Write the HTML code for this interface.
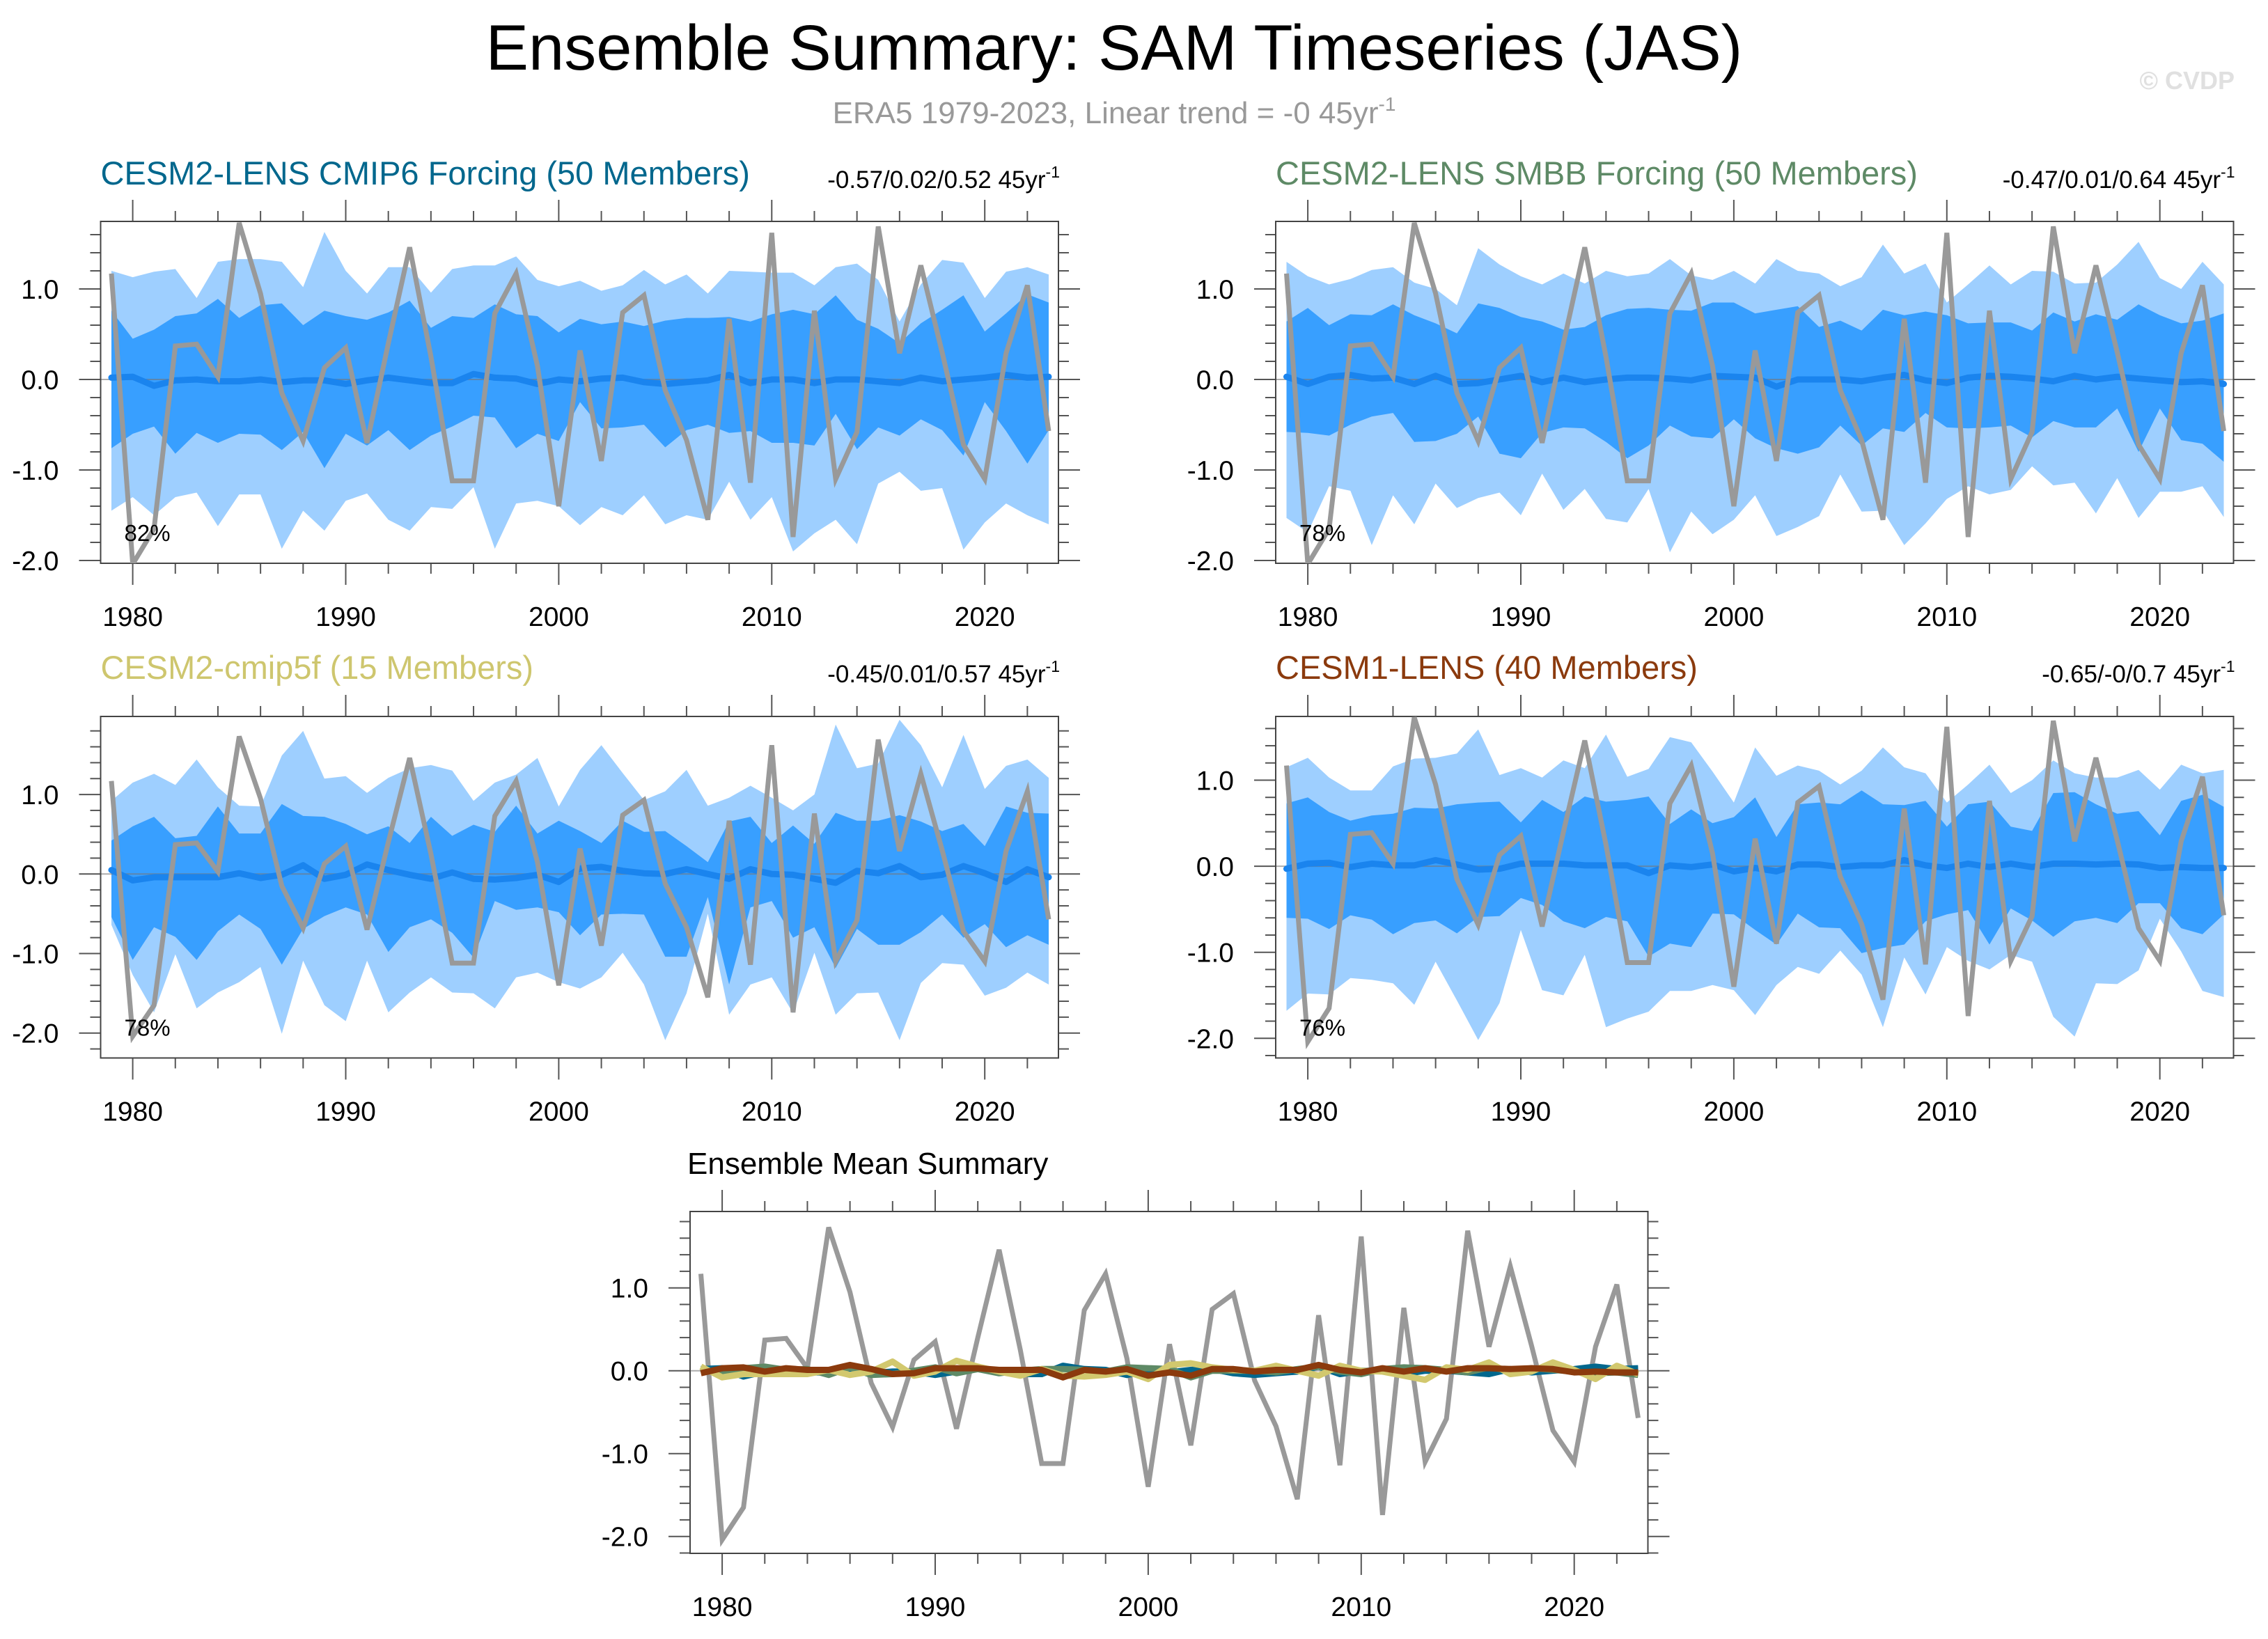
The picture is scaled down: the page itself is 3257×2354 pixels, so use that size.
<!DOCTYPE html>
<html><head><meta charset="utf-8"><title>Ensemble Summary: SAM Timeseries (JAS)</title>
<style>html,body{margin:0;padding:0;background:#fff}svg{display:block;font-family:"Liberation Sans",Arial,sans-serif}</style>
</head><body>
<svg id="chart" xmlns="http://www.w3.org/2000/svg" width="3257" height="2354" viewBox="0 0 3257 2354">
<rect x="0" y="0" width="3257" height="2354" fill="#fff"/>
<text x="1600" y="100" font-size="92" text-anchor="middle" fill="#000">Ensemble Summary: SAM Timeseries (JAS)</text>
<text x="1600" y="177" font-size="44" text-anchor="middle" fill="#999">ERA5 1979-2023, Linear trend = -0 45yr<tspan dy="-18" font-size="28">-1</tspan></text>
<text x="3209" y="128" font-size="36" font-weight="bold" text-anchor="end" fill="#e0e0e0">© CVDP</text>
</svg>
<script>
const years = [1979,1980,1981,1982,1983,1984,1985,1986,1987,1988,1989,1990,1991,1992,1993,1994,1995,1996,1997,1998,1999,2000,2001,2002,2003,2004,2005,2006,2007,2008,2009,2010,2011,2012,2013,2014,2015,2016,2017,2018,2019,2020,2021,2022,2023];
const era5 = [1.17,-2.04,-1.65,0.37,0.39,0.03,1.73,0.95,-0.15,-0.68,0.13,0.35,-0.70,0.40,1.46,0.25,-1.12,-1.12,0.73,1.17,0.15,-1.40,0.32,-0.90,0.74,0.93,-0.12,-0.67,-1.55,0.67,-1.14,1.62,-1.74,0.76,-1.10,-0.58,1.69,0.29,1.26,0.30,-0.72,-1.10,0.29,1.04,-0.57];
const xTickYears = [1980,1990,2000,2010,2020];
const yTickValues = [-2,-1,0,1];
const yTickLabels = ["-2.0","-1.0","0.0","1.0"];

// Panel 1: CESM2-LENS CMIP6 Forcing
const p1LightHi = [1.20,1.13,1.19,1.22,0.90,1.30,1.33,1.33,1.30,1.02,1.63,1.20,0.95,1.24,1.24,0.96,1.22,1.26,1.26,1.36,1.10,1.03,1.09,0.98,1.04,1.21,1.05,1.16,0.95,1.20,1.19,1.18,1.18,1.04,1.24,1.28,1.10,0.64,1.05,1.32,1.29,0.90,1.19,1.24,1.16];
const p1DarkHi = [0.76,0.45,0.55,0.70,0.73,0.89,0.68,0.82,0.84,0.60,0.76,0.70,0.66,0.74,0.87,0.57,0.70,0.68,0.83,0.72,0.70,0.52,0.67,0.61,0.64,0.59,0.65,0.68,0.68,0.69,0.64,0.72,0.77,0.72,0.93,0.66,0.56,0.40,0.62,0.77,0.93,0.53,0.73,0.94,0.85];
const p1DarkLo = [-0.76,-0.60,-0.52,-0.82,-0.59,-0.70,-0.60,-0.61,-0.78,-0.58,-0.98,-0.60,-0.73,-0.56,-0.78,-0.62,-0.52,-0.40,-0.42,-0.76,-0.60,-0.68,-0.25,-0.54,-0.53,-0.50,-0.75,-0.56,-0.50,-0.59,-0.57,-0.70,-0.70,-0.73,-0.38,-0.77,-0.53,-0.62,-0.44,-0.56,-0.84,-0.25,-0.57,-0.93,-0.56];
const p1LightLo = [-1.45,-1.30,-1.50,-1.30,-1.25,-1.62,-1.27,-1.27,-1.87,-1.45,-1.67,-1.34,-1.26,-1.55,-1.67,-1.41,-1.43,-1.19,-1.87,-1.37,-1.34,-1.40,-1.61,-1.41,-1.50,-1.28,-1.60,-1.50,-1.55,-1.13,-1.55,-1.30,-1.90,-1.70,-1.55,-1.82,-1.15,-1.02,-1.23,-1.20,-1.88,-1.58,-1.37,-1.50,-1.60];
const p1Mean = [0.02,0.03,-0.07,-0.01,0,-0.02,-0.02,0,-0.03,-0.01,-0.01,-0.05,-0.01,0.02,-0.01,-0.04,-0.04,0.06,0.02,0.01,-0.05,0,-0.02,0.01,0.02,-0.03,-0.05,-0.03,-0.01,0.05,-0.04,0,0,-0.04,0,0,-0.02,-0.04,0.02,-0.02,0,0.02,0.05,0.02,0.03];

// Panel 2: CESM2-LENS SMBB Forcing
const p2LightHi = [1.30,1.14,1.05,1.11,1.21,1.24,1.07,1.00,0.82,1.45,1.27,1.14,1.05,1.17,1.06,1.20,1.14,1.17,1.33,1.15,1.10,1.20,1.06,1.33,1.20,1.17,1.03,1.13,1.49,1.17,1.28,0.85,1.05,1.26,1.05,1.20,1.19,1.06,1.07,1.27,1.52,1.12,1.00,1.30,1.05];
const p2DarkHi = [0.64,0.79,0.60,0.72,0.71,0.83,0.71,0.62,0.51,0.84,0.79,0.69,0.64,0.55,0.58,0.71,0.78,0.79,0.77,0.76,0.85,0.85,0.73,0.77,0.81,0.58,0.65,0.54,0.77,0.71,0.75,0.71,0.62,0.63,0.63,0.54,0.74,0.64,0.72,0.66,0.83,0.71,0.62,0.65,0.73];
const p2DarkLo = [-0.58,-0.59,-0.62,-0.50,-0.41,-0.37,-0.69,-0.68,-0.60,-0.41,-0.82,-0.87,-0.59,-0.53,-0.54,-0.69,-0.87,-0.73,-0.51,-0.63,-0.65,-0.44,-0.65,-0.76,-0.82,-0.75,-0.51,-0.73,-0.54,-0.58,-0.37,-0.53,-0.54,-0.53,-0.51,-0.64,-0.46,-0.53,-0.53,-0.32,-0.80,-0.32,-0.67,-0.71,-0.91];
const p2LightLo = [-1.53,-1.69,-1.18,-1.23,-1.83,-1.28,-1.60,-1.15,-1.42,-1.31,-1.25,-1.50,-1.04,-1.44,-1.21,-1.54,-1.58,-1.21,-1.91,-1.46,-1.71,-1.55,-1.28,-1.73,-1.63,-1.51,-1.05,-1.46,-1.45,-1.83,-1.59,-1.32,-1.18,-1.27,-1.22,-0.96,-1.17,-1.14,-1.48,-1.09,-1.53,-1.24,-1.24,-1.18,-1.52];
const p2Mean = [0.03,-0.05,0.03,0.05,0.01,0.02,-0.05,0.04,-0.05,-0.04,0,0.04,-0.03,0.02,-0.03,0,0.02,0.02,0.01,-0.01,0.04,0.03,0.02,-0.08,0,0,0,-0.02,0.02,0.05,-0.01,-0.04,0.02,0.04,0.03,0.01,-0.02,0.04,0,0.03,0.01,-0.01,-0.03,-0.02,-0.05];

// Panel 3: CESM2-cmip5f
const p3LightHi = [0.92,1.15,1.26,1.12,1.44,1.09,0.86,0.85,1.49,1.80,1.20,1.23,1.02,1.21,1.33,1.37,1.30,0.92,1.15,1.25,1.46,0.85,1.31,1.62,1.27,0.93,1.04,1.31,0.86,0.96,1.11,0.96,0.80,1.00,1.88,1.33,1.39,1.94,1.62,1.09,1.75,1.07,1.36,1.44,1.21];
const p3DarkHi = [0.42,0.60,0.72,0.45,0.48,0.85,0.51,0.51,0.88,0.73,0.72,0.63,0.50,0.60,0.39,0.72,0.48,0.62,0.53,0.86,0.51,0.67,0.54,0.39,0.67,0.53,0.54,0.35,0.15,0.66,0.72,0.39,0.61,0.38,0.77,0.67,0.67,0.74,0.66,0.54,0.63,0.35,0.85,0.77,0.76];
const p3DarkLo = [-0.54,-1.08,-0.67,-0.79,-1.08,-0.72,-0.51,-0.69,-1.14,-0.69,-0.53,-0.42,-0.51,-0.98,-0.67,-0.57,-0.74,-1.05,-0.34,-0.45,-0.42,-0.48,-0.77,-0.51,-0.50,-0.51,-1.04,-1.04,-0.29,-1.39,-0.42,-0.34,-0.80,-0.67,-1.18,-0.69,-0.89,-0.89,-0.73,-0.51,-0.80,-0.63,-0.92,-0.77,-0.89];
const p3LightLo = [-0.64,-1.27,-1.74,-1.01,-1.69,-1.49,-1.36,-1.17,-2.01,-1.09,-1.65,-1.85,-1.09,-1.74,-1.49,-1.30,-1.49,-1.50,-1.69,-1.30,-1.24,-1.36,-1.44,-1.30,-0.99,-1.39,-2.09,-1.50,-0.50,-1.77,-1.39,-1.30,-1.75,-0.99,-1.77,-1.50,-1.49,-2.09,-1.37,-1.12,-1.14,-1.53,-1.43,-1.24,-1.39];
const p3Mean = [0.05,-0.08,-0.04,-0.04,-0.04,-0.04,0.01,-0.05,-0.01,0.11,-0.06,-0.01,0.12,0.05,-0.01,-0.06,0.02,-0.06,-0.07,-0.05,-0.01,-0.10,0.07,0.09,0.04,0.01,0,0.06,0,-0.06,0.06,0,-0.01,-0.06,-0.11,0.04,0.01,0.10,-0.04,-0.01,0.10,0.01,-0.10,0.06,-0.04];

// Panel 4: CESM1-LENS
const p4LightHi = [1.15,1.26,1.03,0.88,0.88,1.16,1.25,1.26,1.31,1.59,1.06,1.14,1.03,1.23,1.14,1.53,1.04,1.13,1.50,1.44,1.10,0.74,1.38,1.05,1.17,1.11,0.95,1.11,1.38,1.15,1.08,0.74,0.95,1.18,0.85,1.00,1.23,1.08,1.03,1.03,1.12,0.89,1.18,1.08,1.12];
const p4DarkHi = [0.73,0.80,0.63,0.53,0.59,0.61,0.68,0.67,0.72,0.74,0.75,0.51,0.77,0.63,0.81,0.75,0.77,0.81,0.49,0.66,0.50,0.57,0.80,0.34,0.72,0.74,0.72,0.88,0.72,0.71,0.76,0.46,0.72,0.75,0.46,0.41,0.85,0.86,0.72,0.61,0.64,0.36,0.76,0.83,0.69];
const p4DarkLo = [-0.60,-0.61,-0.73,-0.57,-0.62,-0.79,-0.66,-0.63,-0.78,-0.59,-0.58,-0.37,-0.45,-0.64,-0.72,-0.59,-0.64,-1.05,-0.90,-0.94,-0.55,-0.56,-0.74,-0.91,-0.55,-0.71,-0.72,-1.01,-0.95,-0.91,-0.64,-0.56,-0.51,-0.91,-0.49,-0.63,-0.82,-0.64,-0.60,-0.66,-0.43,-0.43,-0.72,-0.79,-0.56];
const p4LightLo = [-1.68,-1.48,-1.49,-1.30,-1.32,-1.36,-1.61,-1.11,-1.56,-2.02,-1.59,-0.74,-1.44,-1.50,-1.03,-1.87,-1.77,-1.69,-1.45,-1.45,-1.38,-1.44,-1.73,-1.38,-1.17,-1.25,-0.98,-1.26,-1.87,-1.06,-1.49,-0.94,-1.10,-1.20,-1.03,-1.11,-1.75,-1.98,-1.36,-1.37,-1.21,-0.61,-0.99,-1.45,-1.52];
const p4Mean = [-0.03,0.03,0.04,-0.01,0.03,0.01,0.01,0.07,0.02,-0.04,-0.03,0.03,0.03,0.03,0.01,0.01,0.01,-0.08,0.01,-0.01,0.02,-0.06,-0.02,-0.06,0.02,0.02,-0.01,0.01,0.01,0.07,0.01,-0.02,0.03,-0.01,0.03,-0.01,0.03,0.03,0.02,0.03,0.02,-0.02,-0.01,-0.02,-0.02];

const panelTitles = ["CESM2-LENS CMIP6 Forcing (50 Members)","CESM2-LENS SMBB Forcing (50 Members)","CESM2-cmip5f (15 Members)","CESM1-LENS (40 Members)"];
const trendTexts = ["-0.57/0.02/0.52 45yr","-0.47/0.01/0.64 45yr","-0.45/0.01/0.57 45yr","-0.65/-0/0.7 45yr"];
const pctTexts = ["82%","78%","78%","76%"];

const NS = "http://www.w3.org/2000/svg";
const svg = document.getElementById('chart');
function mk(tag, attrs, parent) {
  const e = document.createElementNS(NS, tag);
  for (const k in attrs) e.setAttribute(k, attrs[k]);
  (parent || svg).appendChild(e);
  return e;
}
function makeAxes(x0, top, bottom, zeroY, unit) {
  return {
    x: y => x0 + 15.5 + (y - 1979) * 30.59,
    y: v => zeroY - v * unit,
    x0: x0, x1: x0 + 1375.5, top: top, bottom: bottom, vmin: (zeroY - bottom) / unit, vmax: (zeroY - top) / unit
  };
}
function linePath(ax, vals) {
  return vals.map((v, i) => (i ? 'L' : 'M') + ax.x(years[i]).toFixed(1) + ' ' + ax.y(v).toFixed(1)).join(' ');
}
function bandPath(ax, hi, lo) {
  let d = hi.map((v, i) => (i ? 'L' : 'M') + ax.x(years[i]).toFixed(1) + ' ' + ax.y(v).toFixed(1)).join(' ');
  for (let i = lo.length - 1; i >= 0; i--) d += ' L' + ax.x(years[i]).toFixed(1) + ' ' + ax.y(lo[i]).toFixed(1);
  return d + ' Z';
}
function drawFrame(ax, g) {
  const clip = mk('clipPath', {id: 'clip' + Math.round(ax.x0) + Math.round(ax.top)}, g);
  mk('rect', {x: ax.x0, y: ax.top, width: ax.x1 - ax.x0, height: ax.bottom - ax.top}, clip);
  return 'url(#clip' + Math.round(ax.x0) + Math.round(ax.top) + ')';
}
function drawAxesDecor(ax, g) {
  const tg = mk('g', {stroke: '#555', 'stroke-width': 2}, g);
  
  
  for (let yr = 1980; yr <= 2022; yr += 2) {
    const major = xTickYears.indexOf(yr) >= 0;
    const L = major ? 31 : 15;
    const xx = ax.x(yr);
    mk('line', {x1: xx, y1: ax.top, x2: xx, y2: ax.top - L}, tg);
    mk('line', {x1: xx, y1: ax.bottom, x2: xx, y2: ax.bottom + L}, tg);
  }
  const startV = Math.ceil(ax.vmin * 5 - 1e-6);
  const endV = Math.floor(ax.vmax * 5 + 1e-6);
  for (let k = startV; k <= endV; k++) {
    const v = k / 5;
    const major = Math.abs(v - Math.round(v)) < 1e-6;
    const L = major ? 31 : 15;
    const yy = ax.y(v);
    mk('line', {x1: ax.x0, y1: yy, x2: ax.x0 - L, y2: yy}, tg);
    mk('line', {x1: ax.x1, y1: yy, x2: ax.x1 + L, y2: yy}, tg);
  }
  mk('line', {x1: ax.x0, y1: ax.y(0), x2: ax.x1, y2: ax.y(0), stroke: '#777', 'stroke-width': 2, opacity: 0.6}, g);
  const box = mk('rect', {x: ax.x0, y: ax.top, width: ax.x1 - ax.x0, height: ax.bottom - ax.top, fill: 'none', stroke: '#444', 'stroke-width': 2}, g);
  
  
  xTickYears.forEach(yr => {
    const t = mk('text', {x: ax.x(yr), y: ax.bottom + 90, 'font-size': 39, 'text-anchor': 'middle', fill: '#000'}, g);
    
    
    t.textContent = yr;
  });
  yTickValues.forEach((v, i) => {
    if (v < ax.vmin - 0.01 || v > ax.vmax + 0.01) return;
    const t = mk('text', {x: ax.x0 - 60, y: ax.y(v) + 14, 'font-size': 39, 'text-anchor': 'end', fill: '#000'}, g);
    
    
    t.textContent = yTickLabels[i];
  });
}

const panelDefs = [
  {ax: makeAxes(144.5, 318, 809, 545, 130), lh: p1LightHi, dh: p1DarkHi, dl: p1DarkLo, ll: p1LightLo, mean: p1Mean, color: '#00678d', tY: 265},
  {ax: makeAxes(1832, 318, 809, 545, 130), lh: p2LightHi, dh: p2DarkHi, dl: p2DarkLo, ll: p2LightLo, mean: p2Mean, color: '#5e8a66', tY: 265},
  {ax: makeAxes(144.5, 1029, 1519.5, 1255.3, 114.2), lh: p3LightHi, dh: p3DarkHi, dl: p3DarkLo, ll: p3LightLo, mean: p3Mean, color: '#cec66e', tY: 975},
  {ax: makeAxes(1832, 1029, 1519.5, 1244.1, 123.6), lh: p4LightHi, dh: p4DarkHi, dl: p4DarkLo, ll: p4LightLo, mean: p4Mean, color: '#8b3a0d', tY: 975}
];

panelDefs.forEach((p, idx) => {
  const ax = p.ax;
  const g = mk('g', {});
  
  
  const clip = drawFrame(ax, g);
  const light = mk('path', {d: bandPath(ax, p.lh, p.ll), fill: '#9ecfff', 'clip-path': clip}, g);
  
  
  const dark = mk('path', {d: bandPath(ax, p.dh, p.dl), fill: '#389fff', 'clip-path': clip}, g);
  
  
  drawAxesDecor(ax, g);
  const mean = mk('path', {d: linePath(ax, p.mean), fill: 'none', stroke: '#1a84ee', 'stroke-width': 9, 'stroke-linejoin': 'round', 'stroke-linecap': 'round', 'clip-path': clip}, g);
  
  
  const obs = mk('path', {d: linePath(ax, era5), fill: 'none', stroke: '#999', 'stroke-width': 7, 'stroke-linejoin': 'miter', 'clip-path': clip}, g);
  
  
  const pct = mk('text', {x: ax.x0 + 34, y: ax.bottom - 32, 'font-size': 33, fill: '#000'}, g);
  
  
  pct.textContent = pctTexts[idx];
  const title = mk('text', {x: ax.x0, y: p.tY, 'font-size': 47, fill: p.color}, g);
  
  
  title.textContent = panelTitles[idx];
  const tr = mk('text', {x: ax.x1 + 2, y: p.tY + 5, 'font-size': 35, 'text-anchor': 'end', fill: '#000'}, g);
  
  
  tr.appendChild(document.createTextNode(trendTexts[idx]));
  const sup = mk('tspan', {dy: -15, 'font-size': 23}, tr);
  sup.textContent = '-1';
});

// Ensemble Mean Summary panel
const ax5 = makeAxes(991, 1740, 2231, 1968.7, 119);
const g5 = mk('g', {});


const clip5 = drawFrame(ax5, g5);
drawAxesDecor(ax5, g5);
const summaryColors = ['#00678d', '#5e8a66', '#d2c86e', '#8b3a0d'];
const summaryNames = ['mean-cesm2-cmip6', 'mean-cesm2-smbb', 'mean-cesm2-cmip5f', 'mean-cesm1-lens'];
const obs5 = mk('path', {d: linePath(ax5, era5), fill: 'none', stroke: '#999', 'stroke-width': 7, 'clip-path': clip5}, g5);


panelDefs.forEach((p, i) => {
  const l = mk('path', {d: linePath(ax5, p.mean), fill: 'none', stroke: summaryColors[i], 'stroke-width': 9, 'stroke-linejoin': 'round', 'clip-path': clip5}, g5);
  
  
});
const t5 = mk('text', {x: 987, y: 1686, 'font-size': 44, fill: '#000'}, g5);


t5.textContent = 'Ensemble Mean Summary';
</script>
</body></html>
